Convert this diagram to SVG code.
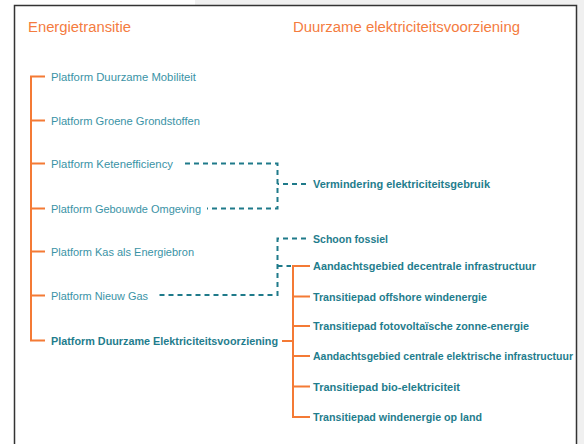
<svg xmlns="http://www.w3.org/2000/svg" width="584" height="444" viewBox="0 0 584 444">
<style>
.title{font-family:"Liberation Sans",Arial,sans-serif;font-size:14px;fill:#f47c3f}
.lbl{font-family:"Liberation Sans",Arial,sans-serif;font-size:11px;fill:#3a93a6}
.blbl{font-family:"Liberation Sans",Arial,sans-serif;font-size:10.5px;font-weight:bold;fill:#1f7d8d}
.or{stroke:#f47a35;stroke-width:2;fill:none}
.ds{stroke:#1f7a8a;stroke-width:2;fill:none;stroke-dasharray:5 4}
</style>
<rect x="0" y="0" width="584" height="444" fill="#ffffff"/>
<rect x="195" y="0" width="389" height="5" fill="#f0f0f0"/>
<rect x="577" y="0" width="7" height="444" fill="#f0f0f0"/>
<path d="M14.5 444 V5.5 H576.5 V444" fill="none" stroke="#333333" stroke-width="1.5"/>
<g id="titles">
<text class="title" x="28" y="32" textLength="103" lengthAdjust="spacingAndGlyphs">Energietransitie</text>
<text class="title" x="293" y="32" textLength="227" lengthAdjust="spacingAndGlyphs">Duurzame elektriciteitsvoorziening</text>
</g>
<g id="connectors">
<path class="or" d="M45 76.5 H31 V340.5 H45 M31 120.5 H45 M31 163.5 H45 M31 208.5 H45 M31 251.5 H45 M31 295.5 H45"/>
<path class="or" d="M282 341 H293 M310 266 H293 V417 H310 M293 296.5 H310 M293 326 H310 M293 356 H310 M293 386.5 H310"/>
<path class="ds" d="M185 163.5 H277.5 V208.5 H207"/>
<path class="ds" d="M306 184 H277.5"/>
<path class="ds" d="M306 238.5 H277.5 V295 H157"/>
<path class="ds" d="M277.5 266 H291"/>
</g>
<g id="left-nodes">
<g id="n-mobiliteit"><text class="lbl" x="51" y="80.5" textLength="145" lengthAdjust="spacingAndGlyphs">Platform Duurzame Mobiliteit</text></g>
<g id="n-grondstoffen"><text class="lbl" x="51" y="124.5" textLength="149" lengthAdjust="spacingAndGlyphs">Platform Groene Grondstoffen</text></g>
<g id="n-ketenefficiency"><text class="lbl" x="51" y="167.5" textLength="122" lengthAdjust="spacingAndGlyphs">Platform Ketenefficiency</text></g>
<g id="n-gebouwde"><text class="lbl" x="51" y="212.5" textLength="150" lengthAdjust="spacingAndGlyphs">Platform Gebouwde Omgeving</text></g>
<g id="n-kas"><text class="lbl" x="51" y="255.5" textLength="143" lengthAdjust="spacingAndGlyphs">Platform Kas als Energiebron</text></g>
<g id="n-nieuwgas"><text class="lbl" x="51" y="299.5" textLength="97" lengthAdjust="spacingAndGlyphs">Platform Nieuw Gas</text></g>
<g id="n-elektriciteit"><text class="blbl" x="51" y="344.5" textLength="227" lengthAdjust="spacingAndGlyphs">Platform Duurzame Elektriciteitsvoorziening</text></g>
</g>
<g id="right-nodes">
<g id="n-vermindering"><text class="blbl" x="313" y="188" textLength="177" lengthAdjust="spacingAndGlyphs">Vermindering elektriciteitsgebruik</text></g>
<g id="n-schoon"><text class="blbl" x="313" y="242.5" textLength="75" lengthAdjust="spacingAndGlyphs">Schoon fossiel</text></g>
<g id="n-decentraal"><text class="blbl" x="313" y="270" textLength="223" lengthAdjust="spacingAndGlyphs">Aandachtsgebied decentrale infrastructuur</text></g>
<g id="n-offshore"><text class="blbl" x="313" y="300.5" textLength="174" lengthAdjust="spacingAndGlyphs">Transitiepad offshore windenergie</text></g>
<g id="n-pv"><text class="blbl" x="313" y="330" textLength="216" lengthAdjust="spacingAndGlyphs">Transitiepad fotovoltaïsche zonne-energie</text></g>
<g id="n-centraal"><text class="blbl" x="313" y="360" textLength="260" lengthAdjust="spacingAndGlyphs">Aandachtsgebied centrale elektrische infrastructuur</text></g>
<g id="n-bio"><text class="blbl" x="313" y="390.5" textLength="147" lengthAdjust="spacingAndGlyphs">Transitiepad bio-elektriciteit</text></g>
<g id="n-windland"><text class="blbl" x="313" y="421" textLength="169" lengthAdjust="spacingAndGlyphs">Transitiepad windenergie op land</text></g>
</g>
</svg>
